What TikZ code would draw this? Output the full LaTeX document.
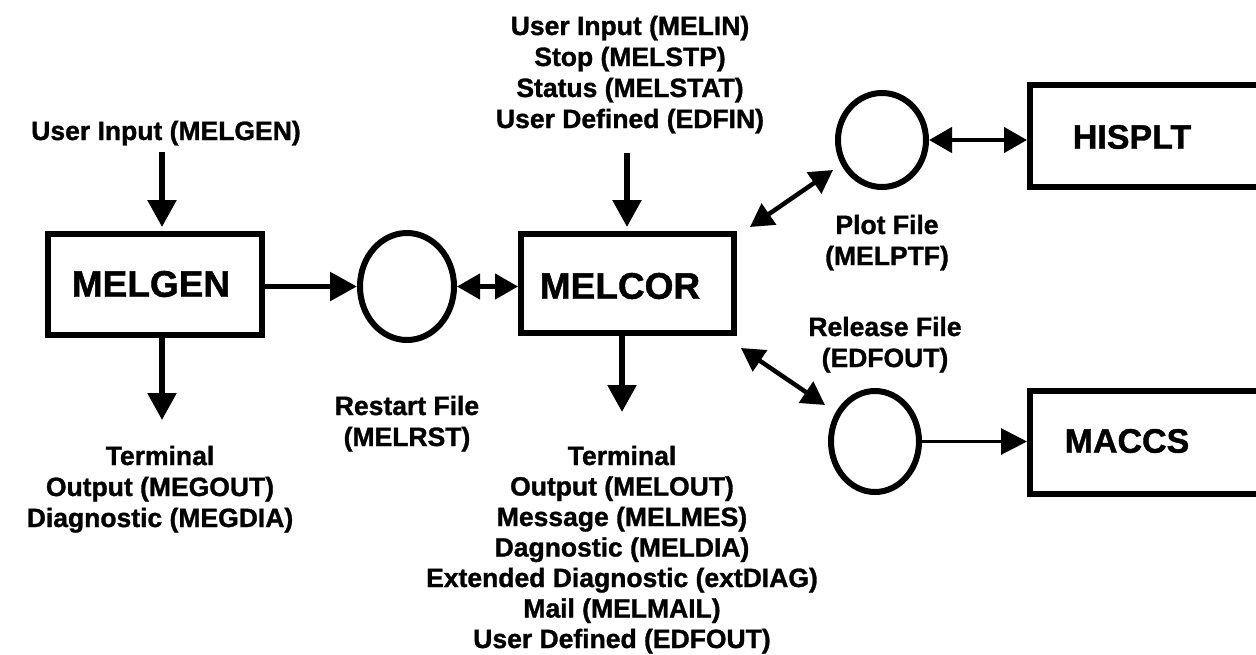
\documentclass[tikz,border=0pt]{standalone}
\usepackage{fontspec}
\setmainfont[BoldFeatures={FakeBold=1.2}]{Liberation Sans}
\usetikzlibrary{arrows.meta,shapes.geometric}
\begin{document}
\begin{tikzpicture}[x=1pt,y=-1pt,
  box/.style={draw, rectangle, line width=6pt, inner sep=0pt},
  file/.style={draw, ellipse, line width=6pt, inner sep=0pt},
  lbl/.style={font=\bfseries\fontsize{26.5}{31}\selectfont, align=center, inner sep=0pt, anchor=base},
  big/.style={font=\bfseries\fontsize{37}{44}\selectfont, inner sep=0pt},
  bigr/.style={font=\bfseries\fontsize{34}{40}\selectfont, inner sep=0pt},
  arr/.style={line width=5.5pt, -{Triangle[length=27pt,width=28pt]}},
  darr/.style={line width=4.5pt, {Triangle[length=23pt,width=25pt]}-{Triangle[length=23pt,width=25pt]}},
  thinarr/.style={line width=3pt, -{Triangle[length=26pt,width=26pt]}}
]
\useasboundingbox (0,0) rectangle (1256,654);
\fill[white] (0,0) rectangle (1256,654);

% boxes
\node[box, minimum width=214pt, minimum height=101pt] (melgen) at (155,284.5) {};
\node[big] (melgentxt) at (151,284) {MELGEN};
\node[box, minimum width=213pt, minimum height=99pt] (melcor) at (627.5,283.5) {};
\node[big] (melcortxt) at (620,286) {MELCOR};
\node[box, minimum width=260pt, minimum height=102pt] (hisplt) at (1160,136) {};
\node[bigr] (hispltxt) at (1132,137) {HISPLT};
\node[box, minimum width=260pt, minimum height=103pt] (maccs) at (1160,442.5) {};
\node[bigr] (maccstxt) at (1127,441) {MACCS};

% files
\node[file, minimum width=94pt, minimum height=107pt] (restart) at (407,286.5) {};
\node[file, minimum width=88pt, minimum height=94pt] (plot) at (882,140) {};
\node[file, minimum width=88pt, minimum height=101pt] (release) at (875,441.5) {};

% labels (anchor=base is the baseline of the last line)
\node[lbl] (uimg) at (166,140) {User Input (MELGEN)};
\node[lbl] (uimc) at (630,128) {User Input (MELIN)\\Stop (MELSTP)\\Status (MELSTAT)\\User Defined (EDFIN)};
\node[lbl] (outmg) at (160,527) {Terminal\\Output (MEGOUT)\\Diagnostic (MEGDIA)};
\node[lbl, font=\bfseries\fontsize{26.5}{30.5}\selectfont] (outmc) at (622,648) {Terminal\\Output (MELOUT)\\Message (MELMES)\\Dagnostic (MELDIA)\\Extended Diagnostic (extDIAG)\\Mail (MELMAIL)\\User Defined (EDFOUT)};
\node[lbl] (rstlbl) at (407,446) {Restart File\\(MELRST)};
\node[lbl] (ptflbl) at (887,265) {Plot File\\(MELPTF)};
\node[lbl] (rellbl) at (885,367) {Release File\\(EDFOUT)};

% free ends
\coordinate (inmg) at (162,152);
\coordinate (outmgc) at (162,420);
\coordinate (inmc) at (627,153);
\coordinate (outmcc) at (622,412);

% connectors
\draw[arr, shorten >=4pt] (inmg) -- (inmg |- melgen.north);
\draw[arr] (outmgc |- melgen.south) -- (outmgc);
\draw[arr] (melgen.east |- restart.west) -- (restart.west);
\draw[darr] (restart.east) -- (restart.east -| melcor.west);
\draw[arr, shorten >=4pt] (inmc) -- (inmc |- melcor.north);
\draw[arr] (outmcc |- melcor.south) -- (outmcc);
\draw[darr] ([shift={(13,-4)}]melcor.north east) -- ([shift={(-49,30)}]plot.center);
\draw[darr] ([shift={(4,12)}]melcor.south east) -- ([shift={(-50,-36.5)}]release.center);
\draw[darr] (plot.east) -- (plot.east -| hisplt.west);
\draw[thinarr] (release.east) -- (release.east -| maccs.west);
\end{tikzpicture}
\end{document}
